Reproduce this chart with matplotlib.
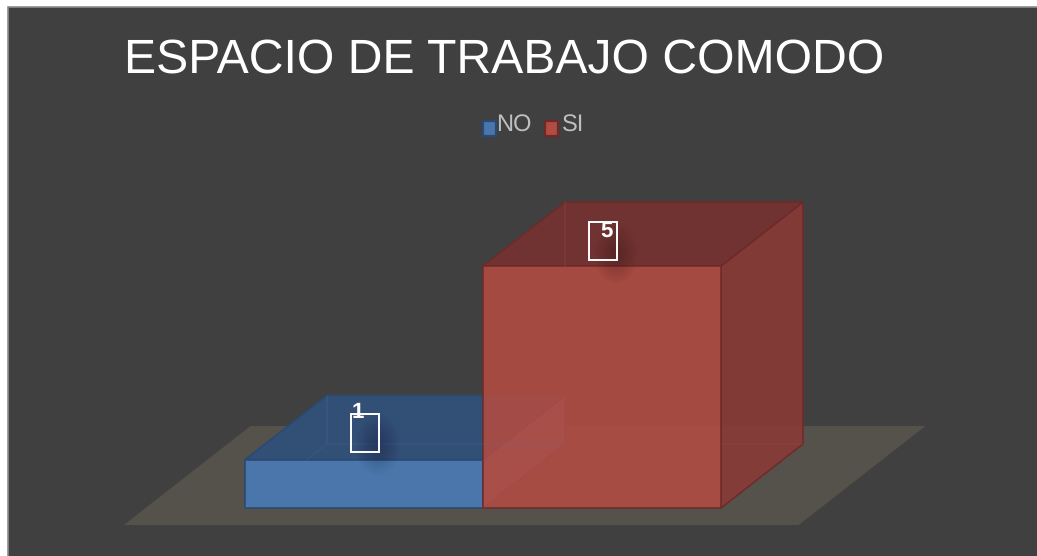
import numpy as np
import matplotlib.pyplot as plt
from matplotlib.patches import Polygon, Rectangle, Ellipse

plt.rcParams['font.family'] = ['Liberation Sans', 'DejaVu Sans']
plt.rcParams['text.hinting'] = 'none'

title = 'ESPACIO DE TRABAJO COMODO'
categories = ['NO', 'SI']
values = [1, 5]
front_colors = ['#4A76AB', '#B04C42']
top_colors = ['#324F75', '#773230']
side_colors = ['#6E6E95', '#8A3A37']
edge_colors = ['#2B4A73', '#6E2A28']

W, H = 1037, 556
# plot scale: one category is 238 px wide, one value unit is 48.4 px tall
x_px, y_px = 238.0, 48.4
x0_px, y0_px = 245.0, 508.0
depth_x, depth_y = 82 / x_px, 64 / y_px


def proj(x, y, z=0.0):
    # oblique projection of the 3D box into the flat axes
    return (x + z * depth_x, y + z * depth_y)


fig = plt.figure(figsize=(W / 100, H / 100), dpi=100, facecolor='white')
ax = fig.add_axes([0, 0, 1, 1])
ax.set_xlim(-x0_px / x_px, (W - x0_px) / x_px)
ax.set_ylim(-(H - y0_px) / y_px, y0_px / y_px)
ax.axis('off')


def to_data(px, py):
    return ((px - x0_px) / x_px, (y0_px - py) / y_px)


# chart background, runs off the right and bottom edge
bx, by = to_data(8, 566)
ax.add_patch(Rectangle((bx, by), (W + 5 - 8) / x_px, (566 - 7) / y_px, fc='#404040', ec='#8C8C8C', lw=1.2))

# floor
floor = [proj(-0.418, 0, -0.266), proj(2.418, 0, -0.266), proj(2.418, 0, 1.281), proj(-0.418, 0, 1.281)]
ax.add_patch(Polygon(floor, fc='#54524A', ec='none'))

for i, v in enumerate(values):
    a, b = i, i + 1
    alpha = 0.9 if i == 1 else 1.0
    # side
    ax.add_patch(Polygon([proj(b, 0, 0), proj(b, 0, 1), proj(b, v, 1), proj(b, v, 0)],
                         fc=side_colors[i], ec=edge_colors[i], lw=1.2, alpha=alpha, zorder=2 + i))
    # top
    ax.add_patch(Polygon([proj(a, v, 0), proj(b, v, 0), proj(b, v, 1), proj(a, v, 1)],
                         fc=top_colors[i], ec=edge_colors[i], lw=1.2, alpha=alpha, zorder=2 + i))
    # front
    ax.add_patch(Polygon([proj(a, 0, 0), proj(b, 0, 0), proj(b, v, 0), proj(a, v, 0)],
                         fc=front_colors[i], ec=edge_colors[i], lw=1.2, alpha=alpha, zorder=2 + i))
    # hidden edges, seen faintly through the faces
    hidden = [proj(a, 0, 0), proj(a, 0, 1), proj(a, v, 1), proj(a, 0, 1), proj(b, 0, 1)]
    ax.plot(*zip(*hidden), color=front_colors[i], lw=1.0, alpha=0.18, zorder=4)

# soft shadows and the data labels with their empty boxes
label_boxes = [(351, 414), (589, 222)]
label_text = [(358, 412), (607, 231)]
for i, v in enumerate(values):
    px, py = label_boxes[i]
    cx, cy = to_data(px + 27, py + 31)
    for k in range(12):
        ax.add_patch(Ellipse((cx, cy), (44 - 3.4 * k) / x_px, (62 - 4.8 * k) / y_px,
                             fc='black', ec='none', alpha=0.016, zorder=5))
    bx, by = to_data(px, py + 38)
    ax.add_patch(Rectangle((bx, by), 28 / x_px, 38 / y_px, fc='none', ec='white', lw=1.4, zorder=6))
    tx, ty = to_data(*label_text[i])
    ax.text(tx, ty, str(v), color='white', fontsize=16, fontweight='bold', ha='center', va='center', zorder=7)

# title
tx, ty = to_data(124, 72.5)
ax.text(tx, ty, title, color='white', fontsize=34.7, ha='left', va='baseline')

# legend
legend_x = [(482, 496.5), (544, 561.5)]
for i, name in enumerate(categories):
    sx, tx_px = legend_x[i]
    lx, ly = to_data(sx + 1, 136)
    ax.add_patch(Rectangle((lx, ly), 13.5 / x_px, 14.5 / y_px, fc=front_colors[i], ec=edge_colors[i], lw=1.6))
    tx, ty = to_data(tx_px, 131.5)
    ax.text(tx, ty, name, color='#BFBFBF', fontsize=17, ha='left', va='baseline')

fig.savefig('out.png', dpi=100)
